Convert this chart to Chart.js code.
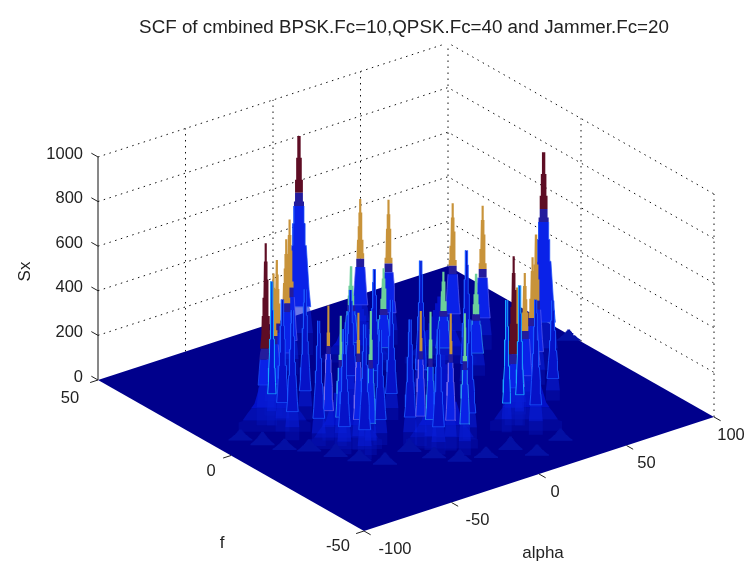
<!DOCTYPE html>
<html>
<head>
<meta charset="utf-8">
<script src="https://cdn.jsdelivr.net/npm/chart.js@4"></script>
<style>
  html, body { margin: 0; padding: 0; background: #fff; }
  canvas { display: block; }
</style>
</head>
<body>
<canvas id="myChart" width="755" height="565"></canvas>
<script>
const titleText = "SCF of cmbined BPSK.Fc=10,QPSK.Fc=40 and Jammer.Fc=20";
const alphaTicks = [-100, -50, 0, 50, 100];
const fTicks = [-50, 0, 50];
const sxTicks = [0, 200, 400, 600, 800, 1000];

// peaks: R tall red, D short red, O/o orange, G/g green, S blue streak, C cyan streak
const peakKind = ["R","O","O","O","O","D","O","G","O","G","O","G","O","G","o","g","o","g","o","g","o","g","R","O","O","O","O","D",
  "S","C","S","S","S","S","S","S","S","S","S","S","C","C","S","S","S","S","S","S"];
const peakAlpha = [-11,-27,-35,-51,-59,-68,24,2,28,10,51,32,59,40,-55,-54,-50,-49,-25,-24,-17,-15,68,56,48,39,30,22,
  -66,-66,-50,-68,-62,-58,-54,-39,-19,-28,-24,-3,15,24,24,52,4,24,-12,-21];
const peakF = [33,26,22,15,11,8,33,22,25,15,16,7,10,0,-7,-11,-15,-19,-22,-25,-28,-32,-7,-12,-16,-19,-22,-26,
  3,7,5,-2,-8,-15,-20,-16,-7,-20,-28,-26,-28,-27,-33,-21,-3,-7,4,7];
const peakSx = [982,695,654,650,637,816,610,439,650,457,637,439,646,457,605,583,614,646,605,619,614,637,978,673,619,592,570,758,
  592,646,583,583,561,561,605,516,538,561,561,538,592,628,605,448,628,650,583,493];

// low bumps along the foot of the spikes and the wide mounds under each group
const bumpAlpha = [-87,-82,-77,-69,-63,-57,-50,-33,-28,-21,-9,5,11,29,96];
const bumpF = [5,0,-5,-9,-15,-20,-25,-23,-29,-34,-36,-36,-42,-39,2];
const bumpSx = [50,60,50,55,60,50,55,60,50,55,50,60,50,55,50];
const moundAlpha = [-69,-54,-19,23,5,35];
const moundF = [4,-13,-26,-30,22,10];
const moundSx = [420,420,420,420,300,300];

function project(alpha, f, sx) {
  return {
    x: 364 + (alpha + 100) * 350 / 200 - (f + 50) * 266 / 100,
    y: 531 - (alpha + 100) * 114 / 200 - (f + 50) * 151 / 100 - sx * 223 / 1000
  };
}

const stepLevels = [1, .9, .8, .7, .6, .5, .4, .3, .2, .1, 0];
const stepWidths = [.12, .2, .28, .36, .44, .52, .62, .72, .84, 1];
const kindStyle = {
  R: { top: "#5e0d24", cut: .74, spread: 14, edge: "rgba(28,80,248,.7)" },
  D: { top: "#5e0d24", cut: .42, spread: 9, edge: "rgba(28,80,248,.7)" },
  O: { top: "#c8933a", cut: .56, spread: 9, edge: "rgba(90,96,240,.7)" },
  o: { top: "#c8933a", cut: .7, spread: 6, edge: "rgba(120,110,235,.8)" },
  G: { top: "#6ccf9a", cut: .6, spread: 9, edge: "rgba(48,160,240,.7)" },
  g: { top: "#6ccf9a", cut: .66, spread: 6, edge: "rgba(48,160,240,.8)" },
  S: { top: null, cut: 1, spread: 7, edge: "rgba(26,88,255,.9)", body: "#0612c8" },
  C: { top: null, cut: 1, spread: 5, edge: "#18a8ff", body: "#0618d8" }
};

// outline of one spike between two height fractions: stepped near the tip, tapered below
function spikeShape(alpha, f, sx, spread, hi, lo) {
  const left = [], right = [];
  const base = project(alpha, f, 0);
  const tip = project(alpha, f, sx);
  for (let i = 0; i < stepWidths.length; i++) {
    const a = Math.min(stepLevels[i], hi), b = Math.max(stepLevels[i + 1], lo);
    if (a <= b) continue;
    const w = Math.max(1, stepWidths[i] * spread);
    const w2 = stepLevels[i] > .5 ? w : Math.max(1, stepWidths[Math.min(i + 1, stepWidths.length - 1)] * spread);
    const ya = base.y + (tip.y - base.y) * a, yb = base.y + (tip.y - base.y) * b;
    left.push({ x: base.x - w, y: ya }, { x: base.x - w2, y: yb });
    right.unshift({ x: base.x + w2, y: yb }, { x: base.x + w, y: ya });
  }
  return left.concat(right);
}

function shapeSet(data, fillColour, edgeColour) {
  return {
    data: data,
    showLine: true,
    fill: "shape",
    backgroundColor: fillColour,
    borderColor: edgeColour || fillColour,
    borderWidth: edgeColour ? 1 : 0,
    pointRadius: 0,
    tension: 0
  };
}

function lineSet(data, colour, dash) {
  return {
    data: data,
    showLine: true,
    fill: false,
    borderColor: colour,
    borderWidth: 1,
    borderDash: dash || [],
    pointRadius: 0,
    tension: 0
  };
}

const sets = [];

// back walls, dotted grid
sxTicks.forEach(z => {
  if (z > 0) sets.push(lineSet([project(-100, 50, z), project(100, 50, z), project(100, -50, z)], "#111", [1.5, 4.5]));
});
alphaTicks.slice(1).forEach(a => {
  sets.push(lineSet([project(a, 50, 0), project(a, 50, 1000)], "#111", [1.5, 4.5]));
});
fTicks.slice(0, 2).forEach(v => {
  sets.push(lineSet([project(100, v, 0), project(100, v, 1000)], "#111", [1.5, 4.5]));
});

// floor
sets.push(shapeSet([project(-100, -50, 0), project(100, -50, 0), project(100, 50, 0), project(-100, 50, 0), project(-100, -50, 0)], "#00008c"));

// z axis and tick marks
sets.push(lineSet([project(-100, 50, 0), project(-100, 50, 1000)], "#111"));
sxTicks.forEach(z => sets.push(lineSet([project(-100, 50, z), project(-100, 52.5, z)], "#222")));
alphaTicks.forEach(a => sets.push(lineSet([project(a, -50, 0), project(a, -52.5, 0)], "#222")));
fTicks.forEach(v => sets.push(lineSet([project(-100, v, 0), project(-104.5, v, 0)], "#222")));

moundAlpha.forEach((a, i) => {
  sets.push(shapeSet(spikeShape(a, moundF[i], moundSx[i], 36, .12, 0), "rgba(6,24,190,.3)"));
  sets.push(shapeSet(spikeShape(a, moundF[i], moundSx[i], 32, .25, .12), "rgba(6,26,205,.55)"));
  sets.push(shapeSet(spikeShape(a, moundF[i], moundSx[i], 28, 1, .25), "rgba(4,20,215,.8)"));
});

// spikes and bumps, painted from the back of the floor to the front
const marks = [];
peakAlpha.forEach((a, i) => marks.push({ a: a, f: peakF[i], sx: peakSx[i], kind: peakKind[i] }));
bumpAlpha.forEach((a, i) => marks.push({ a: a, f: bumpF[i], sx: bumpSx[i], kind: null }));
marks.sort((m, n) => project(m.a, m.f, 0).y - project(n.a, n.f, 0).y);

marks.forEach(m => {
  if (!m.kind) {
    sets.push(shapeSet(spikeShape(m.a, m.f, m.sx, 12, 1, 0), "#0410a4"));
    return;
  }
  const st = kindStyle[m.kind];
  if (st.top) {
    sets.push(shapeSet(spikeShape(m.a, m.f, m.sx, st.spread, 1, st.cut), st.top));
    sets.push(shapeSet(spikeShape(m.a, m.f, m.sx, st.spread, st.cut, st.cut - .06), "#241c9c"));
  }
  const bodyTop = st.top ? st.cut - .06 : 1;
  sets.push(shapeSet(spikeShape(m.a, m.f, m.sx, st.spread, bodyTop, .22), st.body || "#0a22e8", st.edge));
  sets.push(shapeSet(spikeShape(m.a, m.f, m.sx, st.spread, .22, .1), "rgba(8,30,215,.6)"));
  sets.push(shapeSet(spikeShape(m.a, m.f, m.sx, st.spread, .1, 0), "rgba(8,26,200,.3)"));
});

// chart draws the first dataset on top, so flip the list
sets.reverse();

const alphaLabelDx = [31, 26, 16, 20, 17];
const fLabelDx = [-26, -20, -28];
const fLabelDy = [15, 15.5, 18];

const axisText = {
  id: "axisText",
  afterDraw(chart) {
    const ctx = chart.ctx;
    const sx = chart.scales.x, sy = chart.scales.y;
    const px = p => ({ x: sx.getPixelForValue(p.x), y: sy.getPixelForValue(p.y) });
    ctx.save();
    ctx.fillStyle = "#222";
    ctx.font = "16.5px 'Liberation Sans'";
    ctx.textBaseline = "middle";
    ctx.textAlign = "right";
    sxTicks.forEach(z => {
      const p = px(project(-100, 50, z));
      ctx.fillText(String(z), p.x - 15, p.y - 3);
    });
    ctx.textAlign = "center";
    alphaTicks.forEach((a, i) => {
      const p = px(project(a, -50, 0));
      ctx.fillText(String(a), p.x + alphaLabelDx[i], p.y + 18);
    });
    fTicks.forEach((v, i) => {
      const p = px(project(-100, v, 0));
      ctx.fillText(String(v), p.x + fLabelDx[i], p.y + fLabelDy[i]);
    });
    const alphaMid = px(project(0, -50, 0));
    ctx.font = "17px 'Liberation Sans'";
    ctx.fillText("alpha", alphaMid.x + 4, alphaMid.y + 79);
    const fMid = px(project(-100, 0, 0));
    ctx.fillText("f", fMid.x - 9, fMid.y + 88);
    const zMid = px(project(-100, 50, 500));
    ctx.translate(zMid.x - 73, zMid.y + 3);
    ctx.rotate(-Math.PI / 2);
    ctx.fillText("Sx", 0, 0);
    ctx.restore();
  }
};

new Chart(document.getElementById("myChart").getContext("2d"), {
  type: "scatter",
  data: { datasets: sets },
  options: {
    responsive: false,
    animation: false,
    layout: { padding: { left: 53 } },
    scales: {
      x: { type: "linear", display: false, min: 53, max: 755 },
      y: { type: "linear", display: false, min: 44, max: 565, reverse: true }
    },
    plugins: {
      legend: { display: false },
      tooltip: { enabled: false },
      title: {
        display: true,
        text: titleText,
        color: "#222",
        font: { family: "'Liberation Sans'", size: 18.8, weight: "normal" },
        padding: { top: 17, bottom: 4.4 }
      }
    }
  },
  plugins: [axisText]
});
</script>
</body>
</html>
